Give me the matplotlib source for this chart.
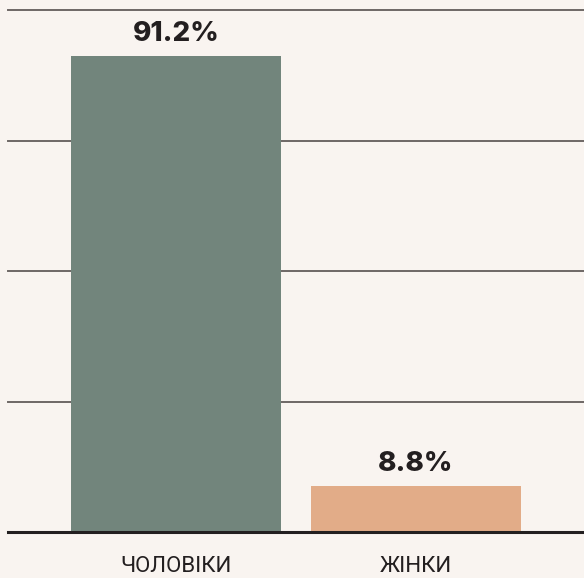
import matplotlib.pyplot as plt
import numpy as np

# data
categories = ['ЧОЛОВІКИ', 'ЖІНКИ']
values = [91.2, 8.8]
labels = ['91.2%', '8.8%']
colors = ['#72857c', '#e2ac88']

bg = '#f9f4f0'
ink = '#231f20'

fig = plt.figure(figsize=(5.84, 5.78), dpi=100, facecolor=bg)
ax = fig.add_axes([8 / 584, 1 - 532 / 578, 576 / 584, 522 / 578])
ax.set_facecolor(bg)

x = np.arange(len(categories))
ax.bar(x, values, width=0.875, color=colors, zorder=2)

# value labels above bars
for xi, v, lab in zip(x, values, labels):
    ax.annotate(lab, xy=(xi, v), xytext=(0, 11), textcoords='offset points',
                ha='center', va='baseline', fontsize=20, fontweight='heavy',
                family='Inter', color=ink)

# category labels under the baseline
for xi, cat in zip(x, categories):
    ax.annotate(cat, xy=(xi, 0), xytext=(0, -28.5), textcoords='offset points',
                ha='center', va='baseline', fontsize=16, family='Roboto',
                color=ink, annotation_clip=False)

ax.set_xlim(-0.7, 1.7)
ax.set_ylim(0, 100)
ax.set_yticks([25, 50, 75, 100])
ax.yaxis.grid(True, color='#6e6866', linewidth=1.4, zorder=1)
for gl in ax.get_ygridlines():
    gl.set_clip_on(False)
ax.tick_params(axis='y', left=False, labelleft=False)
ax.set_xticks([])

for s in ['top', 'right', 'left']:
    ax.spines[s].set_visible(False)
ax.spines['bottom'].set_color(ink)
ax.spines['bottom'].set_linewidth(2.2)
ax.spines['bottom'].set_zorder(3)

fig.savefig('out.png', dpi=100, facecolor=bg)
